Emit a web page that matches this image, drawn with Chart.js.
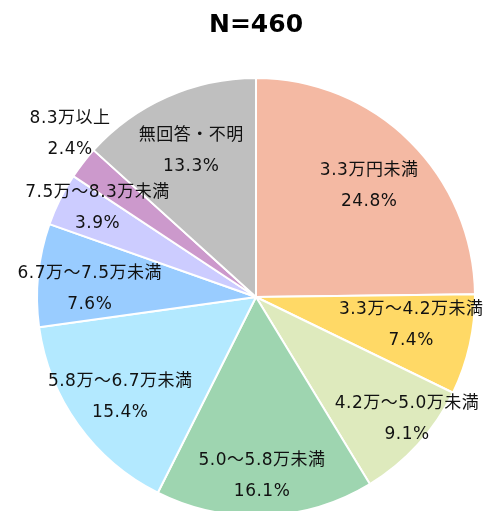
<!DOCTYPE html>
<html>
<head>
<meta charset="utf-8">
<script src="https://cdn.jsdelivr.net/npm/chart.js@4/dist/chart.umd.min.js"></script>
<style>
html,body{margin:0;padding:0;background:#fff;overflow:hidden;width:494px;height:511px;}
canvas{display:block;}
</style>
</head>
<body>
<canvas id="c" width="494" height="530"></canvas>
<script>
const titleText = 'N=460';
const categories = ['3.3万円未満','3.3万～4.2万未満','4.2万～5.0万未満','5.0～5.8万未満','5.8万～6.7万未満','6.7万～7.5万未満','7.5万～8.3万未満','8.3万以上','無回答・不明'];
const values = [24.8, 7.4, 9.1, 16.1, 15.4, 7.6, 3.9, 2.4, 13.3];
const colors = ['#F4B9A3','#FFD966','#DEEABD','#9ED5B0','#B3E9FF','#99CCFF','#CCCCFF','#CC99CC','#BFBFBF'];
// label placement: [fraction of radius, angle shift in degrees from slice middle]
const labelPlacement = [[0.725,0.8],[0.72,-2.4],[0.886,-3.4],[0.82,0.4],[0.77,-0.7],[0.76,-3.2],[0.83,2.9],[1.13,3.5],[0.73,0]];

const FONT = '"DejaVu Sans", "Noto Sans CJK JP", sans-serif';

const labelPlugin = {
  id: 'sliceLabels',
  afterDatasetsDraw(chart) {
    const ctx = chart.ctx;
    const meta = chart.getDatasetMeta(0);
    ctx.save();
    ctx.font = '17px ' + FONT;
    if ('letterSpacing' in ctx) ctx.letterSpacing = '0.5px';
    ctx.fillStyle = '#111';
    ctx.textAlign = 'center';
    ctx.textBaseline = 'middle';
    meta.data.forEach((arc, i) => {
      const p = arc.getProps(['x','y','startAngle','endAngle','outerRadius'], true);
      const [frac, shift] = labelPlacement[i];
      const a = (p.startAngle + p.endAngle) / 2 + shift * Math.PI / 180;
      const x = p.x + Math.cos(a) * p.outerRadius * frac;
      const y = p.y + Math.sin(a) * p.outerRadius * frac;
      ctx.fillText(categories[i], x, y - 15.5);
      ctx.fillText(values[i].toFixed(1) + '%', x, y + 15.5);
    });
    ctx.restore();
  }
};

new Chart(document.getElementById('c'), {
  type: 'pie',
  data: {
    labels: categories,
    datasets: [{
      data: values,
      backgroundColor: colors,
      borderColor: '#ffffff',
      borderWidth: 2
    }]
  },
  options: {
    responsive: false,
    animation: false,
    layout: { padding: { left: 36, right: 18, top: 0, bottom: 13 } },
    plugins: {
      legend: { display: false },
      tooltip: { enabled: false },
      title: {
        display: true,
        text: titleText,
        color: '#000',
        font: { family: FONT, size: 25, weight: 'bold', lineHeight: 1.2 },
        padding: { top: 10, bottom: 37 }
      }
    }
  },
  plugins: [labelPlugin]
});
</script>
</body>
</html>
